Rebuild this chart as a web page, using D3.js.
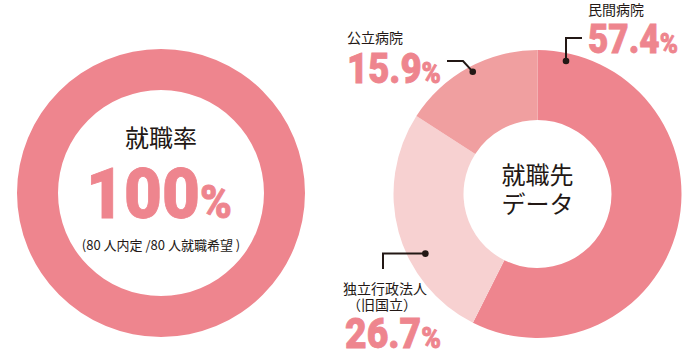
<!DOCTYPE html>
<html>
<head>
<meta charset="utf-8">
<script src="https://cdn.jsdelivr.net/npm/d3@7"></script>
<style>
  body { margin: 0; background: #fff; }
  svg { display: block; }
  .jp { font-family: "Noto Sans CJK JP", "Noto Sans", sans-serif; fill: #231815; }
  .num { font-family: Roboto, "DejaVu Sans", sans-serif; font-weight: 900; fill: #ee858e; stroke: #ee858e; stroke-width: 0.8; }
</style>
</head>
<body>
<script>
// data
let categories = ["民間病院", "独立行政法人", "公立病院"]
let subLabels = ["", "（旧国立）", ""]
let values = [57.4, 26.7, 15.9]
let colors = ["#ee858e", "#f7d1d1", "#f09fa0"]

let hired = 80
let hopeful = 80

let width = 700, height = 364

let svg = d3.select("body").append("svg").attr("width", width).attr("height", height)

// big number + small "%" in one text
function bigNumber(g, x, y, str, size, pctSize, w) {
  let t = g.append("text").attr("class", "num")
    .attr("x", x).attr("y", y)
    .attr("textLength", w).attr("lengthAdjust", "spacingAndGlyphs")
  t.append("tspan").attr("font-size", size).text(str)
  t.append("tspan").attr("font-size", pctSize).text("%")
}

// left donut: employment rate
let rate = hired / hopeful * 100
let leftG = svg.append("g").attr("transform", "translate(161,193)")
let ratePie = d3.pie().sort(null)([rate, 100 - rate])
let leftArc = d3.arc().innerRadius(103).outerRadius(144)
leftG.selectAll("path")
  .data(ratePie)
  .enter().append("path")
    .attr("d", leftArc)
    .attr("fill", (d, i) => i == 0 ? "#ee858e" : "#fff")

leftG.append("text").attr("class", "jp")
  .attr("x", 0).attr("y", -53)
  .attr("text-anchor", "middle").attr("dominant-baseline", "middle")
  .attr("font-size", 24)
  .text("就職率")

bigNumber(leftG, -75, 25.3, d3.format("d")(rate), 70, 46, 146)

leftG.append("text").attr("class", "jp")
  .attr("x", 0).attr("y", 53)
  .attr("text-anchor", "middle").attr("dominant-baseline", "middle")
  .attr("font-size", 13)
  .text("(" + hired + " 人内定 /" + hopeful + " 人就職希望 )")

// right donut: destinations
let cx = 537.5, cy = 194
let rightG = svg.append("g").attr("transform", "translate(" + cx + "," + cy + ")")
let pie = d3.pie().sort(null)(values)
let arc = d3.arc().innerRadius(74).outerRadius(144)
rightG.selectAll("path")
  .data(pie)
  .enter().append("path")
    .attr("d", arc)
    .attr("fill", (d, i) => colors[i])

rightG.append("text").attr("class", "jp")
  .attr("x", 0).attr("y", -17)
  .attr("text-anchor", "middle").attr("dominant-baseline", "middle")
  .attr("font-size", 24)
  .text("就職先")
rightG.append("text").attr("class", "jp")
  .attr("x", 0).attr("y", 12)
  .attr("text-anchor", "middle").attr("dominant-baseline", "middle")
  .attr("font-size", 24)
  .text("データ")

// callout layout per slice
let callouts = [
  { dotAngle: 12.1, dotR: 136, line: [[566, 38], [582, 38]], labelX: 588, labelY: 11.5, numY: 53.3, numW: 90, numSize: 40, pctSize: 28 },
  { dotAngle: 242, dotR: 127, line: [[383, 254], [383, 269]], labelX: 385, labelY: 290, numX: 345, numY: 348.3, numW: 96, numSize: 42, pctSize: 30, center: true },
  { dotAngle: 332.1, dotR: 138.4, line: [[463, 61], [447, 61]], labelX: 347, labelY: 39, numY: 83.3, numW: 94, numSize: 42, pctSize: 30 }
]

let fmt = d3.format(".1f")
callouts.forEach((c, i) => {
  let a = c.dotAngle * Math.PI / 180
  let dx = cx + Math.sin(a) * c.dotR
  let dy = cy - Math.cos(a) * c.dotR
  let pts = [[dx, dy]]
  if (i == 0) pts = [[dx, dy], [dx, c.line[0][1]], c.line[1]]
  if (i == 1) pts = [[dx, dy], [c.line[0][0], dy], c.line[1]]
  if (i == 2) pts = [[dx, dy], c.line[0], c.line[1]]
  svg.append("path")
    .attr("d", d3.line()(pts))
    .attr("fill", "none").attr("stroke", "#231815").attr("stroke-width", 2)
  svg.append("circle").attr("cx", dx).attr("cy", dy).attr("r", 3.3).attr("fill", "#231815")

  svg.append("text").attr("class", "jp")
    .attr("x", c.labelX).attr("y", c.labelY)
    .attr("text-anchor", c.center ? "middle" : "start")
    .attr("dominant-baseline", "middle")
    .attr("font-size", 14)
    .text(categories[i])
  if (subLabels[i]) {
    svg.append("text").attr("class", "jp")
      .attr("x", c.labelX - 3).attr("y", c.labelY + 16)
      .attr("text-anchor", "middle").attr("dominant-baseline", "middle")
      .attr("font-size", 14)
      .text(subLabels[i])
  }

  bigNumber(svg, c.numX || c.labelX, c.numY, fmt(values[i]), c.numSize, c.pctSize, c.numW)
})
</script>
</body>
</html>
